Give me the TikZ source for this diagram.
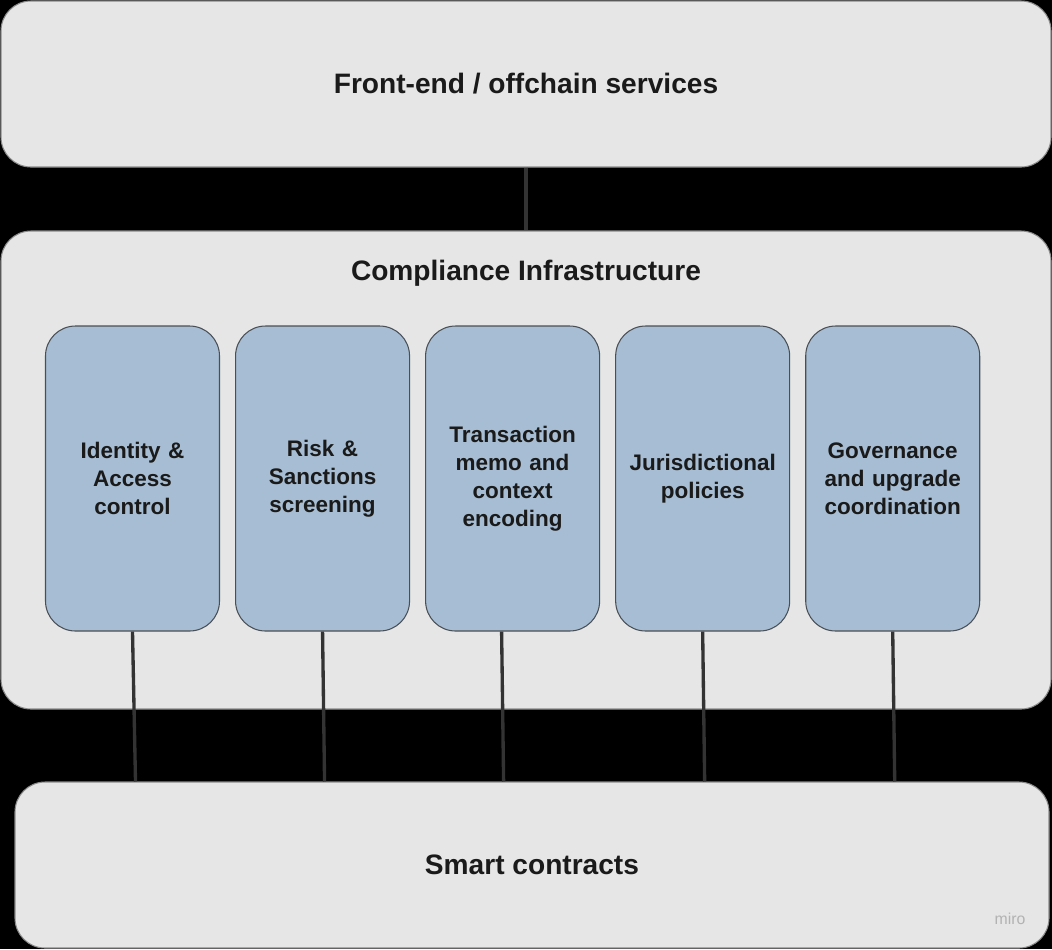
\documentclass[tikz,border=0pt]{standalone}
\usepackage{fontspec}
\setmainfont{Liberation Sans}
\usetikzlibrary{positioning, calc}
\definecolor{cpanel}{HTML}{E6E6E6}
\definecolor{cedge}{HTML}{8A8A8A}
\definecolor{cblue}{HTML}{A6BDD3}
\definecolor{cbedge}{HTML}{4A4F55}
\definecolor{cline}{HTML}{333333}
\definecolor{ctext}{HTML}{1A1A1A}
\tikzset{
  every picture/.style={font=\bfseries, text=ctext},
  panel/.style={draw=cedge, fill=cpanel, rounded corners=0.6cm, line width=0.6pt},
  heading/.style={font=\fontsize{16}{19}\selectfont\bfseries},
  link/.style={draw=cline, line width=1.9pt},
}

\begin{document}
\begin{tikzpicture}[
  block/.style={draw=cbedge, fill=cblue, rounded corners=0.6cm, line width=0.6pt, minimum width=3.48cm, minimum height=6.1cm, align=center, text width=3.1cm, font=\fontsize{12.8}{16}\selectfont\bfseries},
]
  \fill[black] (0,0) rectangle (21.04,-18.98);
  \useasboundingbox (0,0) rectangle (21.04,-18.98);

  \node[panel, minimum width=21cm, minimum height=3.32cm] (fe) at (10.52,-1.68) {};
  \node[heading] at (fe) {Front-end / offchain services};

  \node[panel, minimum width=21cm, minimum height=9.56cm] (ci) at (10.52,-9.4) {};
  \node[heading] (cit) at (10.52,-5.46) {Compliance Infrastructure};

  \node[panel, minimum width=20.68cm, minimum height=3.32cm] (sc) at (10.64,-17.3) {};
  \node[heading] at (sc) {Smart contracts};
  \node[font=\fontsize{9}{10}\selectfont, text=black!30] (mr) at (20.2,-18.38) {miro};

  \draw[link] (fe.south) -- (ci.north);

  \node[block] (b1) at (2.65,-9.57) {Identity \&\\ Access\\ control};
  \node[block, right=0.3cm of b1] (b2) {Risk \&\\ Sanctions\\ screening};
  \node[block, right=0.3cm of b2] (b3) {Transaction\\ memo and\\ context\\ encoding};
  \node[block, right=0.3cm of b3] (b4) {Jurisdictional\\ policies};
  \node[block, right=0.3cm of b4] (b5) {Governance\\ and upgrade\\ coordination};

  \draw[link] (b1.south) -- ([xshift=0.06cm]b1.south |- sc.north);
  \draw[link] (b2.south) -- ([xshift=0.04cm]b2.south |- sc.north);
  \draw[link] ([xshift=-0.22cm]b3.south) -- ([xshift=-0.18cm]b3.south |- sc.north);
  \draw[link] (b4.south) -- ([xshift=0.04cm]b4.south |- sc.north);
  \draw[link] (b5.south) -- ([xshift=0.04cm]b5.south |- sc.north);
\end{tikzpicture}
\end{document}
